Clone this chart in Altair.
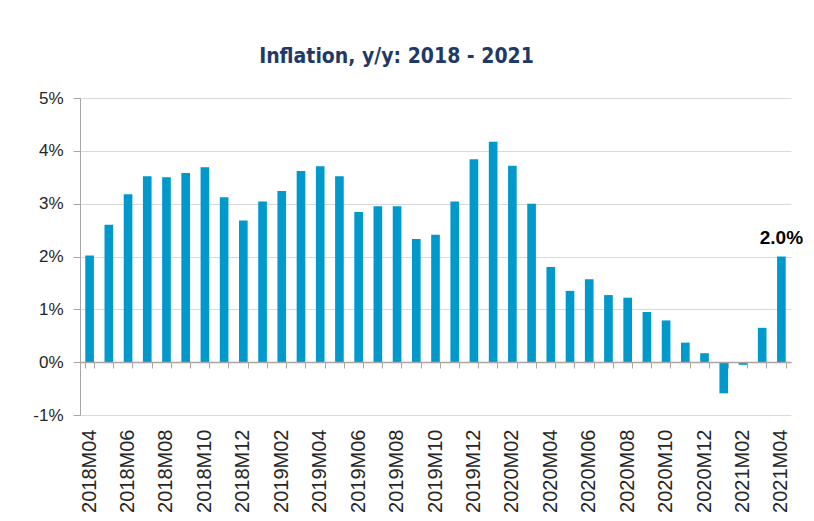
import altair as alt
import pandas as pd

months = [
    "2018M04", "2018M05", "2018M06", "2018M07", "2018M08", "2018M09", "2018M10", "2018M11", "2018M12",
    "2019M01", "2019M02", "2019M03", "2019M04", "2019M05", "2019M06", "2019M07", "2019M08", "2019M09",
    "2019M10", "2019M11", "2019M12",
    "2020M01", "2020M02", "2020M03", "2020M04", "2020M05", "2020M06", "2020M07", "2020M08", "2020M09",
    "2020M10", "2020M11", "2020M12",
    "2021M01", "2021M02", "2021M03", "2021M04",
]
inflation = [
    2.02, 2.60, 3.18, 3.52, 3.50, 3.58, 3.69, 3.12, 2.68,
    3.04, 3.24, 3.62, 3.71, 3.52, 2.84, 2.95, 2.95, 2.33,
    2.41, 3.04, 3.84,
    4.17, 3.72, 3.00, 1.80, 1.35, 1.57, 1.27, 1.22, 0.95,
    0.79, 0.37, 0.17,
    -0.59, -0.05, 0.65, 2.00,
]
y_ticks = [-1, 0, 1, 2, 3, 4, 5]
label_months = months[::2]
annotated_month = "2021M04"

df = pd.DataFrame({"month": months, "value": inflation})

FONT = "Liberation Sans"
xscale = alt.Scale(paddingInner=0.55, paddingOuter=0.275)
yscale = alt.Scale(domain=[-1, 5], nice=False, zero=False)

bars = alt.Chart(df).mark_bar(color="#0099cc").encode(
    x=alt.X("month:N", sort=months, scale=xscale, title=None,
            axis=alt.Axis(orient="bottom", values=label_months, labelAngle=270, labelAlign="right",
                          labelBaseline="middle", labelFontSize=20, labelFont=FONT,
                          labelColor="#262626", labelPadding=14, ticks=False,
                          domain=False, grid=False)),
    y=alt.Y("value:Q", scale=yscale, title=None,
            axis=alt.Axis(values=y_ticks, labelExpr="datum.value + '%'",
                          labelFontSize=17, labelFont=FONT, labelColor="#262626",
                          labelPadding=10, grid=True, gridColor="#d9d9d9",
                          domain=True, domainColor="#a6a6a6", ticks=True,
                          tickColor="#a6a6a6", tickSize=7)),
)

zero_axis = alt.Chart(df).mark_bar(opacity=0).encode(
    x=alt.X("month:N", sort=months, scale=xscale, title=None,
            axis=alt.Axis(orient="bottom", labels=False, ticks=True, tickBand="extent",
                          tickSize=6, tickColor="#a6a6a6", domain=True,
                          domainColor="#a6a6a6", domainWidth=1.5, grid=False,
                          offset=-53, zindex=1)),
    y=alt.Y("value:Q", scale=yscale),
)

label = alt.Chart(df).transform_filter(
    alt.datum.month == annotated_month
).transform_calculate(
    txt="format(datum.value, '.1f') + '%'"
).mark_text(fontSize=19, fontWeight="bold", font=FONT, color="#000000",
            baseline="bottom", dy=-9).encode(
    x=alt.X("month:N", sort=months, scale=xscale, axis=None),
    y=alt.Y("value:Q", scale=yscale),
    text="txt:N",
)

chart = alt.layer(bars, zero_axis, label).resolve_axis(x="independent").properties(
    width=711,
    height=317,
    background="white",
    title=alt.TitleParams("Inflation, y/y: 2018 - 2021", fontSize=21,
                          font="DejaVu Sans Condensed, Liberation Sans", fontWeight="bold",
                          color="#1f3a68", offset=22, dx=-39, anchor="middle"),
    autosize=alt.AutoSizeParams(type="none"),
    padding={"left": 72, "top": 90, "right": 15, "bottom": 98},
).configure_view(strokeWidth=0)

chart.save("out.html", embed_options={"renderer": "svg", "actions": False})
